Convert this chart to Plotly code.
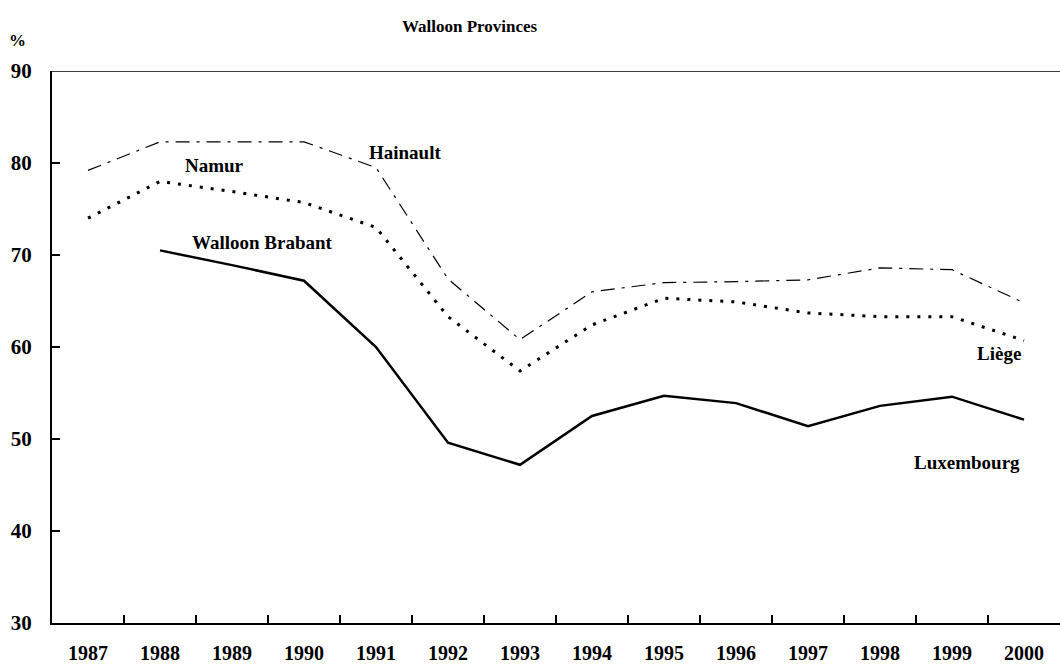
import plotly.graph_objects as go

# Share of votes (%) by province, 1987-2000
years = list(range(1987, 2001))
year_labels = [str(y) for y in years]

hainault = [79.2, 82.3, 82.3, 82.3, 79.5, 67.4, 60.8, 66.0, 67.0, 67.1, 67.3, 68.6, 68.4, 64.8]
namur_liege = [74.0, 78.0, 76.9, 75.7, 73.0, 63.3, 57.4, 62.4, 65.3, 64.9, 63.7, 63.3, 63.3, 60.7]
brabant_luxembourg = [None, 70.5, 68.9, 67.2, 60.0, 49.6, 47.2, 52.5, 54.7, 53.9, 51.4, 53.6, 54.6, 52.1]

y_ticks = [30, 40, 50, 60, 70, 80, 90]
boundaries = [y + 0.5 for y in years[:-1]]

FONT = "Liberation Serif"

fig = go.Figure()
fig.add_trace(go.Scatter(
    x=years, y=hainault, mode="lines", name="Hainault",
    line=dict(color="black", width=1.2, dash="14px,7px,3px,7px"),
))
fig.add_trace(go.Scatter(
    x=years, y=namur_liege, mode="lines", name="Namur / Liège",
    line=dict(color="black", width=3, dash="3px,8px"),
))
fig.add_trace(go.Scatter(
    x=years, y=brabant_luxembourg, mode="lines", name="Walloon Brabant / Luxembourg",
    line=dict(color="black", width=2.5),
))

# Line labels
labels = [
    ("Hainault", 1991.40, 81.1, "center"),
    ("Namur", 1988.76, 79.7, "center"),
    ("Walloon Brabant", 1989.42, 71.4, "center"),
    ("Liège", 1999.99, 59.3, "right"),
    ("Luxembourg", 1999.97, 47.5, "right"),
]
for text, x, y, anchor in labels:
    fig.add_annotation(
        x=x, y=y, text=f"<b>{text}</b>", showarrow=False,
        xanchor=anchor, yanchor="middle",
        font=dict(family=FONT, size=19, color="black"),
    )

fig.add_annotation(
    x=0.415, y=1.08, xref="paper", yref="paper", text="<b>Walloon Provinces</b>",
    showarrow=False, xanchor="center", yanchor="middle",
    font=dict(family=FONT, size=17, color="black"),
)
fig.add_annotation(
    x=-0.034, y=1.056, xref="paper", yref="paper", text="<b>%</b>",
    showarrow=False, xanchor="center", yanchor="middle",
    font=dict(family=FONT, size=17, color="black"),
)

# Top frame line
fig.add_shape(type="line", xref="paper", yref="y", x0=0, x1=1, y0=90, y1=90,
              line=dict(color="black", width=1.5))

fig.update_layout(
    width=1060, height=671,
    margin=dict(l=52, r=0, t=71, b=48),
    paper_bgcolor="white", plot_bgcolor="white",
    showlegend=False,
    font=dict(family=FONT, color="black"),
    xaxis=dict(
        range=[1986.5, 2000.5], tickmode="array", tickvals=years,
        ticktext=[f"<b>{t}</b>" for t in year_labels],
        ticks="", showgrid=False, zeroline=False,
        showline=True, linecolor="black", linewidth=2,
        ticklabelstandoff=11,
        tickfont=dict(family=FONT, size=20, color="black"),
        minor=dict(tickmode="array", tickvals=boundaries, ticks="inside",
                   ticklen=8, tickwidth=2, tickcolor="black", showgrid=False),
    ),
    yaxis=dict(
        range=[30, 90], tickmode="array", tickvals=y_ticks,
        ticktext=[f"<b>{v}</b>" for v in y_ticks],
        ticks="inside", ticklen=8, tickwidth=2, tickcolor="black",
        showgrid=False, zeroline=False,
        showline=True, linecolor="black", linewidth=2,
        ticklabelstandoff=14,
        tickfont=dict(family=FONT, size=21, color="black"),
    ),
)

fig.write_html("out.html")
